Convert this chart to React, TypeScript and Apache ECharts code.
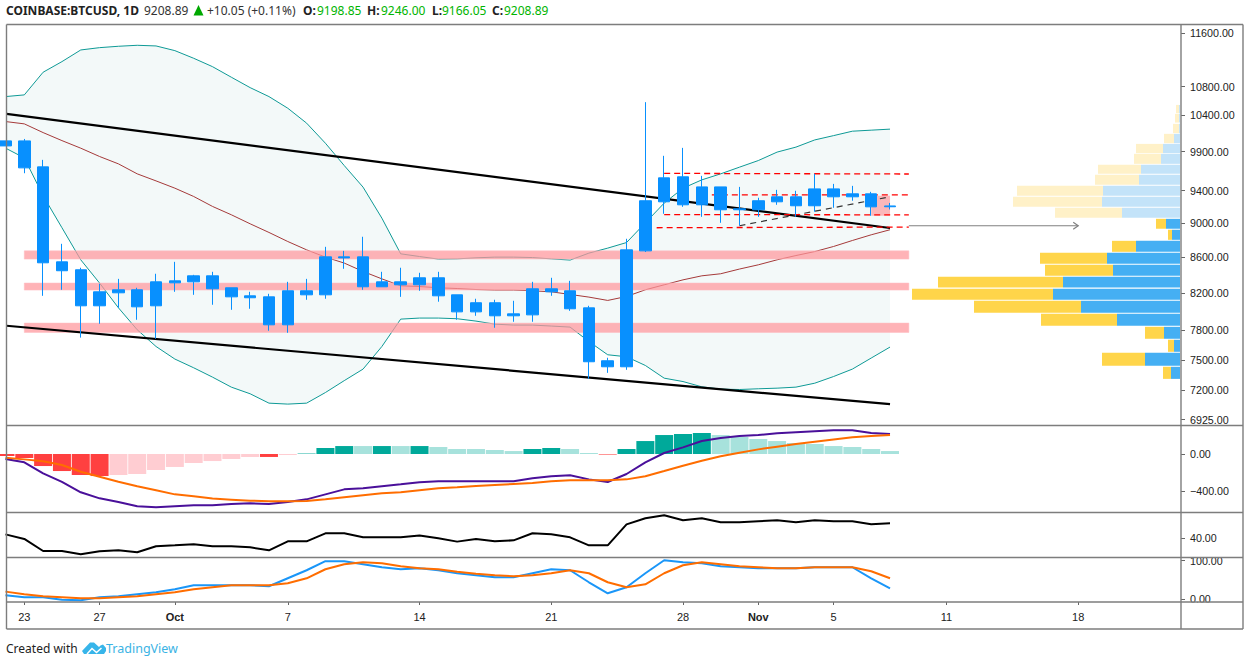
import React, { useEffect, useRef } from "react";
import * as echarts from "echarts";

// ---- time axis: 0 = Sep 23, one unit per day
const xMin = -0.9458;
const xMax = 61.461;
const dateTicks = [0, 4, 8, 14, 21, 28, 35, 39, 43, 49, 56];
const dateLabels = ["23", "27", "Oct", "7", "14", "21", "28", "Nov", "5", "11", "18"];

// ---- candles, first entry is Sep 22
const bodyHigh = [10044, 10044, 9702, 8547, 8457, 8212, 8234, 8234, 8322, 8333, 8389, 8389, 8256, 8168, 8157, 8223, 8223, 8604, 8604, 8604, 8322, 8322, 8367, 8367, 8179, 8093, 8093, 7974, 8245, 8245, 8223, 8038, 7490, 8685, 9273, 9561, 9574, 9446, 9446, 9174, 9273, 9322, 9322, 9421, 9421, 9359, 9359, 9208.89];
const bodyLow = [9977, 9689, 8536, 8446, 8060, 8060, 8201, 8049, 8060, 8311, 8322, 8245, 8157, 8147, 7858, 7858, 8179, 8179, 8592, 8267, 8267, 8289, 8289, 8168, 7995, 7995, 7953, 7953, 7963, 8212, 8028, 7480, 7430, 7430, 8673, 9260, 9223, 9223, 9162, 9162, 9162, 9260, 9211, 9211, 9322, 9322, 9198, 9198.85];
const wickHigh = [10044, 10070, 9793, 8755, 8480, 8300, 8355, 8256, 8412, 8547, 8400, 8434, 8256, 8212, 8190, 8322, 8355, 8720, 8673, 8838, 8434, 8480, 8423, 8434, 8179, 8136, 8125, 8114, 8322, 8367, 8333, 8060, 7520, 8814, 10577, 9846, 9951, 9586, 9446, 9446, 9310, 9409, 9397, 9612, 9484, 9459, 9384, 9246];
const wickLow = [9977, 9620, 8168, 8234, 7725, 7869, 8038, 7911, 7713, 8212, 8179, 8071, 8017, 8028, 7796, 7775, 8125, 8136, 8468, 8234, 8267, 8157, 8223, 8104, 7911, 7953, 7827, 7890, 7890, 8168, 8006, 7311, 7370, 7400, 8660, 9113, 9198, 9076, 9004, 8970, 9076, 9223, 9076, 9138, 9186, 9273, 9089, 9166.05];

// ---- Bollinger bands
const bollUpper = [10656, 10680, 11008, 11165, 11340, 11375, 11396, 11411, 11401, 11330, 11215, 11090, 10935, 10784, 10656, 10492, 10285, 10013, 9719, 9443, 9060, 8639, 8608, 8578, 8581, 8593, 8601, 8601, 8596, 8581, 8567, 8647, 8705, 8770, 9004, 9244, 9430, 9535, 9612, 9698, 9784, 9895, 9961, 10057, 10115, 10175, 10189, 10203];
const bollLower = [9948, 9819, 9335, 8945, 8570, 8308, 8039, 7806, 7634, 7507, 7420, 7328, 7231, 7167, 7078, 7069, 7078, 7179, 7294, 7407, 7634, 7918, 7929, 7929, 7922, 7897, 7865, 7855, 7855, 7845, 7834, 7685, 7550, 7530, 7443, 7318, 7285, 7234, 7212, 7208, 7215, 7221, 7231, 7269, 7334, 7407, 7517, 7628];
const bollMid = [10307, 10275, 10156, 10048, 9947, 9837, 9741, 9612, 9522, 9430, 9326, 9203, 9101, 8992, 8889, 8782, 8685, 8601, 8533, 8438, 8355, 8278, 8270, 8256, 8248, 8237, 8231, 8231, 8223, 8212, 8183, 8154, 8118, 8161, 8234, 8289, 8344, 8389, 8412, 8465, 8513, 8570, 8619, 8665, 8724, 8794, 8861, 8921];

// ---- MACD
const macdHist = [-22, -43, -130, -184, -227, -238, -227, -216, -173, -140, -97, -76, -54, -32, -32, -11, 5, 65, 86, 86, 86, 86, 86, 76, 54, 54, 43, 32, 54, 65, 54, 11, -6, 54, 140, 205, 216, 227, 205, 184, 162, 140, 119, 108, 86, 76, 54, 32];
const macdTones = "rrrrrrppppppppr" + "pttt" + "ltlt" + "lllll" + "ttll" + "r" + "ttttt" + "llllllllll";
const macdLine = [-54, -90, -209, -302, -414, -479, -518, -565, -576, -565, -554, -554, -540, -533, -540, -518, -490, -436, -382, -371, -349, -328, -306, -295, -295, -295, -295, -295, -263, -241, -230, -274, -302, -216, -90, 11, 72, 140, 173, 194, 205, 223, 234, 245, 256, 256, 227, 216];
const macdSignal = [-40, -58, -79, -119, -191, -245, -299, -349, -392, -436, -457, -482, -493, -504, -511, -511, -508, -490, -468, -446, -425, -414, -392, -371, -360, -346, -335, -324, -313, -295, -284, -284, -284, -274, -241, -184, -126, -72, -25, 14, 50, 79, 108, 133, 158, 180, 194, 205];

// ---- RSI
const rsiLine = [45.6, 38.5, 20, 20, 15, 19.5, 21, 18, 27.2, 28.7, 30.3, 27.2, 27.2, 25.6, 21, 34.9, 34.9, 47.2, 47.2, 41, 41, 41, 44, 39.5, 34.4, 38.5, 34.9, 36.4, 47.2, 45.6, 41, 28.7, 28.7, 61, 70.3, 74.9, 67.2, 70.3, 64.1, 64.1, 65.7, 67.2, 64.1, 67.2, 65.7, 65.7, 61, 62.6];

// ---- Stochastic
const stochK = [10.3, 5.1, 5.1, -1, -2.7, 5.1, 7.7, 12.9, 18, 25.8, 36.2, 36.2, 36.2, 36.2, 33.6, 54.3, 75, 98.4, 98.4, 90.6, 82.8, 77.6, 80.2, 75, 67.3, 62.1, 56.9, 56.9, 67.3, 77.6, 75, 44, 15.5, 31, 67.3, 101, 95.8, 93.2, 85.4, 82.8, 80.2, 80.2, 80.2, 82.8, 82.8, 82.8, 54.3, 28.4];
const stochD = [19.8, 12.9, 7.7, 5.1, 2.5, 2.5, 5.1, 7.7, 12.9, 18, 25.8, 31, 36.2, 36.2, 36.2, 41.4, 54.3, 77.6, 90.6, 95.8, 93.2, 85.4, 80.2, 77.6, 71, 66, 62.1, 59.5, 62.1, 67.3, 75, 67.3, 44, 31, 38.8, 67.3, 88, 95.8, 90.6, 85.4, 82.8, 80.2, 80.2, 82.8, 82.8, 82.8, 72.4, 54.3];

// ---- drawings on the price pane: [x0, x1, priceHigh, priceLow]
const supportBands = [
  [0, 47, 8673, 8578],
  [0, 47, 8308, 8231],
  [0, 47, 7876, 7778],
];
const lastBox = [[45, 46, 9335, 9089]];
const trendUpper = [[xMin, 10413], [46, 8942]];
const trendLower = [[xMin, 7848], [46, 7068]];
const miniTrend = [[38, 8969], [46, 9322]];
const dashedA = [[34, 9618], [47, 9610]];
const dashedB = [[36, 9346], [47, 9346]];
const dashedC = [[34, 9104], [47, 9100]];
const dashedD = [[33.6, 8945], [47, 8953]];
const arrowPath = [[47, 8969], [56, 8969]];

// ---- volume profile, top row first
const profileHigh = [10538, 10413, 10275, 10139, 10004, 9872, 9728, 9599, 9459, 9322, 9186, 9052, 8921, 8790, 8651, 8513, 8378, 8245, 8114, 7975, 7837, 7703, 7570, 7430];
const profileLow = [10422, 10293, 10148, 10013, 9881, 9741, 9612, 9472, 9335, 9198, 9064, 8933, 8802, 8662, 8525, 8389, 8259, 8125, 7985, 7848, 7713, 7580, 7440, 7311];
const profileUp = [1, 1, 1, 6, 17, 19, 39, 41, 77, 78, 58, 14, 8, 44, 73, 67, 117, 127, 99, 63, 16, 6, 35, 9];
const profileDown = [3, 4, 6, 10, 27, 27, 43, 44, 86, 89, 67, 10, 4, 24, 67, 68, 125, 141, 107, 76, 19, 6, 43, 8];

// ---- axis ticks
const priceTicks = [11600, 10800, 10400, 9900, 9400, 9000, 8600, 8200, 7800, 7500, 7200, 6925];
const macdTicks = [0, -400];
const rsiTicks = [40];
const stochTicks = [100, 0];

const priceMin = 6870;
const priceMax = 11732;

const UI_FONT = "'Noto Sans', sans-serif";
const AXIS_FONT = "'Liberation Sans', Arial, sans-serif";
const FRAME = "#7d7d7d";
const GREEN = "#00b400";
const CANDLE = "#0890fe";
const TEAL = "#0e9a96";
const TONES: Record<string, string> = { r: "#ff4040", p: "#ffcdd2", t: "#00a99a", l: "#a7e2dc" };

const idx = (k: number) => k - 1;
const pairs = (arr: number[]) => arr.map((v, k) => [idx(k), v]);

function lineSeries(name: string, data: number[][], color: string, width: number, axis: number, z: number, extra: any = {}) {
  return {
    name,
    type: "line",
    data,
    xAxisIndex: axis,
    yAxisIndex: axis,
    symbol: "none",
    smooth: false,
    z,
    silent: true,
    lineStyle: { color, width, ...(extra.lineStyle || {}) },
    ...(extra.areaStyle ? { areaStyle: extra.areaStyle } : {}),
  };
}

function rectSeries(name: string, rows: number[][], fill: string, stroke: string, z: number) {
  return {
    name,
    type: "custom",
    xAxisIndex: 0,
    yAxisIndex: 0,
    z,
    silent: true,
    clip: true,
    encode: { x: [0, 1], y: [2, 3] },
    data: rows,
    renderItem: (_p: any, api: any) => {
      const a = api.coord([api.value(0), api.value(2)]);
      const b = api.coord([api.value(1), api.value(3)]);
      return {
        type: "rect",
        shape: { x: a[0], y: a[1], width: b[0] - a[0], height: b[1] - a[1] },
        style: { fill, stroke, lineWidth: 1 },
      };
    },
  };
}

function valueAxis(grid: number, min: number, max: number, ticks: number[]) {
  return {
    type: "value",
    gridIndex: grid,
    position: "right",
    min,
    max,
    axisLine: { show: false, onZero: false },
    splitLine: { show: false },
    axisTick: { show: true, length: 4, customValues: ticks, lineStyle: { color: "#666", width: 1 } },
    axisLabel: {
      show: true,
      customValues: ticks,
      margin: 9,
      color: "#222",
      fontSize: 10.7,
      fontFamily: AXIS_FONT,
      formatter: (v: number) => v.toFixed(2).replace("-", "\u2212"),
    },
  };
}

function timeAxis(grid: number, withLabels: boolean) {
  return {
    type: "value",
    gridIndex: grid,
    min: xMin,
    max: xMax,
    position: "bottom",
    show: withLabels,
    axisLine: { show: false, onZero: false },
    splitLine: { show: false },
    axisTick: { show: withLabels, length: 3, customValues: dateTicks, lineStyle: { color: "#666" } },
    axisLabel: {
      show: withLabels,
      customValues: dateTicks,
      margin: 9,
      color: "#222",
      fontSize: 11,
      fontFamily: AXIS_FONT,
      formatter: (v: number) => {
        const label = dateLabels[dateTicks.indexOf(Math.round(v))] || "";
        return label === "Oct" || label === "Nov" ? `{b|${label}}` : label;
      },
      rich: { b: { fontWeight: "bold", fontSize: 11, fontFamily: AXIS_FONT, color: "#222" } },
    },
  };
}

function headerText(text: string, x: number, fill: string, bold = false) {
  return {
    type: "text",
    x,
    y: 10,
    z: 100,
    silent: true,
    style: {
      text,
      fill,
      fontSize: 12,
      fontFamily: UI_FONT,
      fontWeight: bold ? "bold" : "normal",
      textVerticalAlign: "middle",
    },
  };
}

function frameLine(x1: number, y1: number, x2: number, y2: number) {
  return {
    type: "line",
    z: 100,
    silent: true,
    shape: { x1, y1, x2, y2 },
    style: { stroke: FRAME, lineWidth: 1.4 },
  };
}

function buildOption() {
  const L = 6.5;
  const R = 1181;
  const E = 1243;
  return {
    animation: false,
    backgroundColor: "#ffffff",
    grid: [
      { left: L, width: R - L, top: 24.5, height: 401 },
      { left: L, width: R - L, top: 425.5, height: 87 },
      { left: L, width: R - L, top: 512.5, height: 45 },
      { left: L, width: R - L, top: 557.5, height: 44.5 },
    ],
    xAxis: [
      timeAxis(0, false),
      timeAxis(1, false),
      timeAxis(2, false),
      timeAxis(3, true),
      { type: "value", gridIndex: 0, show: false, inverse: true, min: -1, max: R - L - 1, position: "top", splitLine: { show: false } },
    ],
    yAxis: [
      { type: "log", logBase: 10, gridIndex: 0, min: priceMin, max: priceMax, show: false, splitLine: { show: false } },
      valueAxis(1, -632, 308, macdTicks),
      valueAxis(2, 10, 79.2, rsiTicks),
      valueAxis(3, -7, 108, stochTicks),
      {
        ...valueAxis(0, Math.log10(priceMin), Math.log10(priceMax), priceTicks.map((t) => Math.log10(t))),
        axisLabel: {
          ...valueAxis(0, 0, 1, []).axisLabel,
          customValues: priceTicks.map((t) => Math.log10(t)),
          formatter: (v: number) => (Math.round(Math.pow(10, v) * 100) / 100).toFixed(2),
        },
      },
    ],
    series: [
      lineSeries("BB upper", pairs(bollUpper), TEAL, 1, 0, 1, { areaStyle: { color: "#f3f9f9", opacity: 1, origin: "start" } }),
      lineSeries("BB lower", pairs(bollLower), TEAL, 1, 0, 1, { areaStyle: { color: "#ffffff", opacity: 1, origin: "start" } }),
      lineSeries("BB basis", pairs(bollMid), "#a53a3a", 1, 0, 1),
      rectSeries("Support zones", supportBands, "rgba(255,150,155,0.72)", "rgba(255,190,195,0.55)", 2),
      rectSeries("Last box", lastBox, "rgba(255,130,135,0.55)", "none", 2),
      lineSeries("Upper trend", trendUpper, "#000000", 2.2, 0, 3),
      lineSeries("Lower trend", trendLower, "#000000", 2.2, 0, 3),
      lineSeries("Mini trend", miniTrend, "#333333", 1.2, 0, 3, { lineStyle: { type: [6, 5] } }),
      lineSeries("Level A", dashedA, "#ff0000", 1.3, 0, 3, { lineStyle: { type: [6, 4] } }),
      lineSeries("Level B", dashedB, "#ff0000", 1.3, 0, 3, { lineStyle: { type: [6, 4] } }),
      lineSeries("Level C", dashedC, "#ff0000", 1.3, 0, 3, { lineStyle: { type: [6, 4] } }),
      lineSeries("Level D", dashedD, "#ff0000", 1.3, 0, 3, { lineStyle: { type: [6, 4] } }),
      {
        name: "Projection",
        type: "custom",
        xAxisIndex: 0,
        yAxisIndex: 0,
        z: 3,
        silent: true,
        encode: { x: 0, y: 1 },
        data: arrowPath,
        renderItem: (p: any, api: any) => {
          if (p.dataIndex !== 1) return null;
          const end = api.coord([api.value(0), api.value(1)]);
          const start = api.coord([arrowPath[0][0], arrowPath[0][1]]);
          const style = { stroke: "#808080", lineWidth: 1.2, fill: "none" };
          return {
            type: "group",
            children: [
              { type: "line", shape: { x1: start[0], y1: start[1], x2: end[0], y2: end[1] }, style },
              {
                type: "polyline",
                shape: { points: [[end[0] - 5, end[1] - 3.5], [end[0], end[1]], [end[0] - 5, end[1] + 3.5]] },
                style,
              },
            ],
          };
        },
      },
      {
        name: "Volume profile",
        type: "custom",
        xAxisIndex: 4,
        yAxisIndex: 0,
        z: 3,
        silent: true,
        encode: { x: [2, 3], y: [0, 1] },
        data: profileHigh.map((h, k) => [h, profileLow[k], profileUp[k], profileUp[k] + profileDown[k]]),
        renderItem: (p: any, api: any) => {
          const faded = p.dataIndex < 11;
          const hi = api.value(0);
          const lo = api.value(1);
          const up = api.value(2);
          const all = api.value(3);
          const a0 = api.coord([0, hi]);
          const a1 = api.coord([up, lo]);
          const b0 = api.coord([up, hi]);
          const b1 = api.coord([all, lo]);
          return {
            type: "group",
            children: [
              {
                type: "rect",
                shape: { x: a1[0], y: a0[1], width: a0[0] - a1[0], height: a1[1] - a0[1] },
                style: { fill: faded ? "#c3e3f9" : "#45aff3" },
              },
              {
                type: "rect",
                shape: { x: b1[0], y: b0[1], width: b0[0] - b1[0], height: b1[1] - b0[1] },
                style: { fill: faded ? "#fff1c8" : "#ffd54a" },
              },
            ],
          };
        },
      },
      {
        name: "BTCUSD",
        type: "candlestick",
        xAxisIndex: 0,
        yAxisIndex: 0,
        z: 5,
        silent: true,
        clip: true,
        barWidth: 12,
        encode: { x: 0, y: [1, 2, 3, 4] },
        data: bodyHigh.map((h, k) => [idx(k), bodyLow[k], h, wickLow[k], wickHigh[k]]),
        itemStyle: { color: CANDLE, color0: CANDLE, borderColor: CANDLE, borderColor0: CANDLE, borderWidth: 1 },
      },
      {
        name: "MACD histogram",
        type: "bar",
        xAxisIndex: 1,
        yAxisIndex: 1,
        z: 1,
        silent: true,
        barWidth: 18,
        data: macdHist.map((v, k) => ({ value: [idx(k), v], itemStyle: { color: TONES[macdTones[k]] } })),
      },
      lineSeries("MACD", pairs(macdLine), "#4a109a", 2, 1, 3),
      lineSeries("Signal", pairs(macdSignal), "#ff6d00", 2, 1, 4),
      lineSeries("RSI", pairs(rsiLine), "#000000", 2, 2, 3),
      lineSeries("%K", pairs(stochK), "#1a96f8", 2, 3, 3),
      lineSeries("%D", pairs(stochD), "#ff6d00", 2, 3, 4),
    ],
    graphic: {
      elements: [
        headerText("COINBASE:BTCUSD, 1D", 6, "#222222", true),
        headerText("9208.89", 144, "#333333"),
        {
          type: "polygon",
          z: 100,
          silent: true,
          shape: { points: [[193.5, 15.5], [203.5, 15.5], [198.5, 5]] },
          style: { fill: "#00a800" },
        },
        headerText("+10.05 (+0.11%)", 207, "#333333"),
        headerText("O:", 303, "#222222", true),
        headerText("9198.85", 317, GREEN),
        headerText("H:", 367, "#222222", true),
        headerText("9246.00", 381, GREEN),
        headerText("L:", 432, "#222222", true),
        headerText("9166.05", 442, GREEN),
        headerText("C:", 492, "#222222", true),
        headerText("9208.89", 504, GREEN),
        { type: "rect", z: 90, silent: true, shape: { x: 1182, y: 551, width: 60, height: 6 }, style: { fill: "#fff" } },
        { type: "rect", z: 90, silent: true, shape: { x: 1182, y: 602.5, width: 60, height: 8 }, style: { fill: "#fff" } },
        frameLine(L, 24.5, E, 24.5),
        frameLine(L, 425.5, E, 425.5),
        frameLine(L, 512.5, E, 512.5),
        frameLine(L, 557.5, E, 557.5),
        frameLine(L, 602, E, 602),
        frameLine(L, 629, E, 629),
        frameLine(L, 24.5, L, 629),
        frameLine(R, 24.5, R, 629),
        frameLine(E, 24.5, E, 629),
        {
          type: "text",
          x: 6,
          y: 648,
          z: 100,
          silent: true,
          style: { text: "Created with", fill: "#222222", fontSize: 12, fontFamily: UI_FONT, textVerticalAlign: "middle" },
        },
        {
          type: "polygon",
          z: 100,
          silent: true,
          shape: {
            points: [[82, 651], [90, 642.5], [94, 642.5], [99, 647], [100.5, 645.5], [103, 644.5], [106, 648], [106, 651], [104, 654], [84, 654]],
          },
          style: { fill: "#37b5ea" },
        },
        {
          type: "polyline",
          z: 101,
          silent: true,
          shape: { points: [[87, 654], [92, 648.5], [96.5, 652.5], [101.5, 648]] },
          style: { stroke: "#ffffff", lineWidth: 1.5, fill: "none" },
        },
        {
          type: "text",
          x: 106,
          y: 648,
          z: 100,
          silent: true,
          style: { text: "TradingView", fill: "#3bb3e4", fontSize: 12.5, fontFamily: UI_FONT, textVerticalAlign: "middle" },
        },
      ],
    },
  };
}

export default function App() {
  const ref = useRef<HTMLDivElement>(null);
  useEffect(() => {
    if (!ref.current) return;
    const chart = echarts.init(ref.current, undefined, { renderer: "svg" });
    chart.setOption(buildOption() as any);
    return () => chart.dispose();
  }, []);
  return <div ref={ref} style={{ position: "fixed", left: 0, top: 0, width: 1252, height: 661, background: "#fff" }} />;
}
